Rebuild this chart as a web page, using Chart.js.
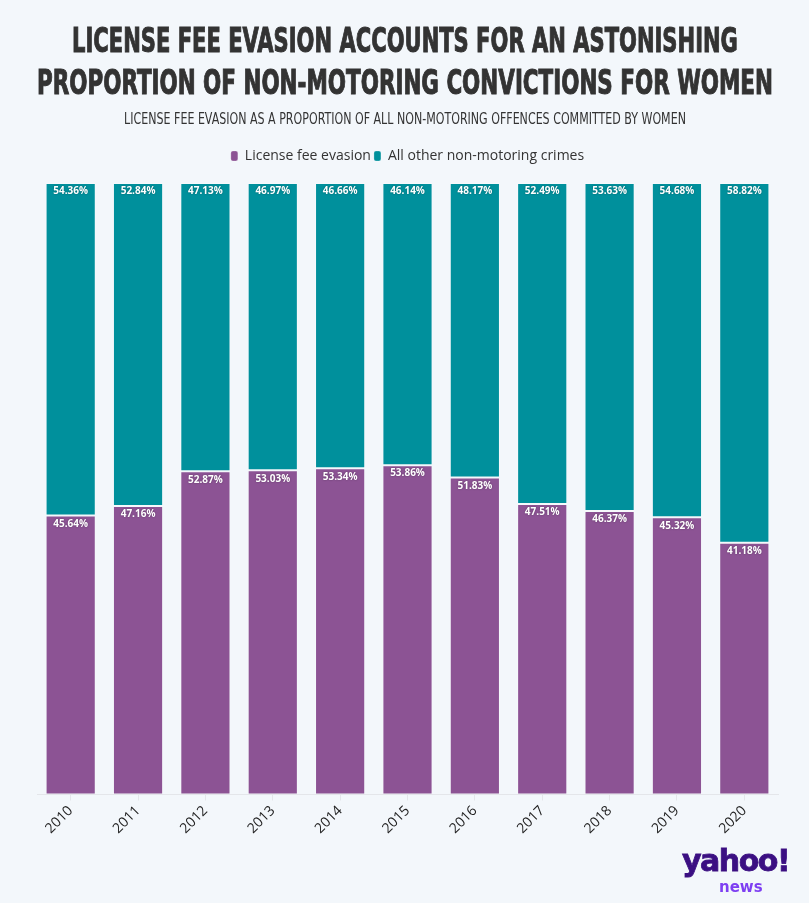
<!DOCTYPE html>
<html>
<head>
<meta charset="utf-8">
<script src="https://cdn.jsdelivr.net/npm/chart.js@4"></script>
<style>
  html, body { margin:0; padding:0; background:#F3F7FB; }
  #wrap { position:relative; width:809px; height:903px; overflow:hidden; background:#F3F7FB; }
  canvas { position:absolute; left:0; top:0; }
  .line { position:absolute; left:0; width:809px; height:40px; white-space:nowrap; line-height:1; color:#333; }
  .line span { position:absolute; left:50%; top:0; display:inline-block; white-space:nowrap; transform-origin:center center; transform:translateX(-50%); }
  .title { font-family:"Liberation Sans Narrow","DejaVu Sans Condensed","DejaVu Sans",sans-serif; font-weight:bold; font-size:33px; -webkit-text-stroke:1px #333; }
  .sub { font-family:"Liberation Sans Narrow","DejaVu Sans Condensed","DejaVu Sans",sans-serif; font-size:16.5px; }
  #yahoo { position:absolute; left:682px; top:846px; font-family:"DejaVu Sans",sans-serif; font-weight:bold; font-size:30px; color:#3B0F82; letter-spacing:-1.5px; line-height:1; white-space:nowrap; -webkit-text-stroke:0.8px #3B0F82; }
  #news { position:absolute; left:719px; top:880px; font-family:"DejaVu Sans",sans-serif; font-weight:bold; font-size:15px; color:#7E3FF2; line-height:1; white-space:nowrap; }
</style>
</head>
<body>
<div id="wrap">
  <canvas id="c" width="809" height="903"></canvas>
  <div class="line title" style="top:24px"><span data-w="666">LICENSE FEE EVASION ACCOUNTS FOR AN ASTONISHING</span></div>
  <div class="line title" style="top:66px"><span data-w="736">PROPORTION OF NON-MOTORING CONVICTIONS FOR WOMEN</span></div>
  <div class="line sub" style="top:111px"><span data-w="562">LICENSE FEE EVASION AS A PROPORTION OF ALL NON-MOTORING OFFENCES COMMITTED BY WOMEN</span></div>
  <div id="yahoo">yahoo!</div>
  <div id="news">news</div>
</div>
<script>
const years = ["2010","2011","2012","2013","2014","2015","2016","2017","2018","2019","2020"];
const licenseFee = [45.64, 47.16, 52.87, 53.03, 53.34, 53.86, 51.83, 47.51, 46.37, 45.32, 41.18];
const otherCrimes = [54.36, 52.84, 47.13, 46.97, 46.66, 46.14, 48.17, 52.49, 53.63, 54.68, 58.82];
const seriesNames = ["License fee evasion", "All other non-motoring crimes"];

// fit title lines to target widths
document.querySelectorAll('.line span').forEach(s => {
  const target = +s.dataset.w;
  const w = s.offsetWidth;
  if (w > 0) s.style.transform = 'translateX(-50%) scaleX(' + (target / w) + ')';
});

const valueLabels = {
  id: 'valueLabels',
  afterDatasetsDraw(chart) {
    const ctx = chart.ctx;
    ctx.save();
    ctx.font = 'bold 10px "Open Sans", sans-serif';
    ctx.fillStyle = '#ffffff';
    ctx.textAlign = 'center';
    ctx.textBaseline = 'middle';
    ctx.shadowColor = 'rgba(0,0,0,0.35)';
    ctx.shadowBlur = 2;
    chart.data.datasets.forEach((ds, di) => {
      const meta = chart.getDatasetMeta(di);
      meta.data.forEach((el, i) => {
        const top = Math.min(el.y, el.base);
        ctx.fillText(ds.data[i].toFixed(2) + '%', el.x, top + 8.5);
      });
    });
    ctx.restore();
  }
};

const legendSpacer = {
  id: 'legendSpacer',
  beforeInit(chart) {
    const origFit = chart.legend.fit;
    chart.legend.fit = function () {
      origFit.bind(chart.legend)();
      this.height += 10;
    };
  }
};

new Chart(document.getElementById('c'), {
  type: 'bar',
  data: {
    labels: years,
    datasets: [
      { label: seriesNames[0], data: licenseFee, backgroundColor: '#8C5394', borderColor: 'rgba(255,255,255,0.25)', borderWidth: 1, borderSkipped: false },
      { label: seriesNames[1], data: otherCrimes, backgroundColor: '#00909C', borderColor: 'rgba(255,255,255,0.25)', borderWidth: 1, borderSkipped: false }
    ]
  },
  options: {
    responsive: false,
    animation: false,
    datasets: { bar: { barPercentage: 0.745, categoryPercentage: 1 } },
    layout: { padding: { top: 146, left: 37, right: 31, bottom: 64 } },
    plugins: {
      legend: {
        display: true,
        position: 'top',
        labels: {
          boxWidth: 7, boxHeight: 10, useBorderRadius: true, borderRadius: 2,
          padding: 3,
          color: '#333',
          font: { family: '"Open Sans", sans-serif', size: 14 }
        }
      },
      tooltip: { enabled: false },
      title: { display: false }
    },
    scales: {
      x: {
        stacked: true,
        grid: { display: true, drawOnChartArea: false, drawTicks: true, tickLength: 6, offset: false, color: '#e4e6ea' },
        border: { display: true, color: '#e4e6ea' },
        ticks: { minRotation: 45, maxRotation: 45, color: '#222', padding: 2, font: { family: '"Open Sans", sans-serif', size: 14 } }
      },
      y: { stacked: true, min: 0, max: 100, display: false }
    }
  },
  plugins: [valueLabels, legendSpacer]
});
</script>
</body>
</html>
